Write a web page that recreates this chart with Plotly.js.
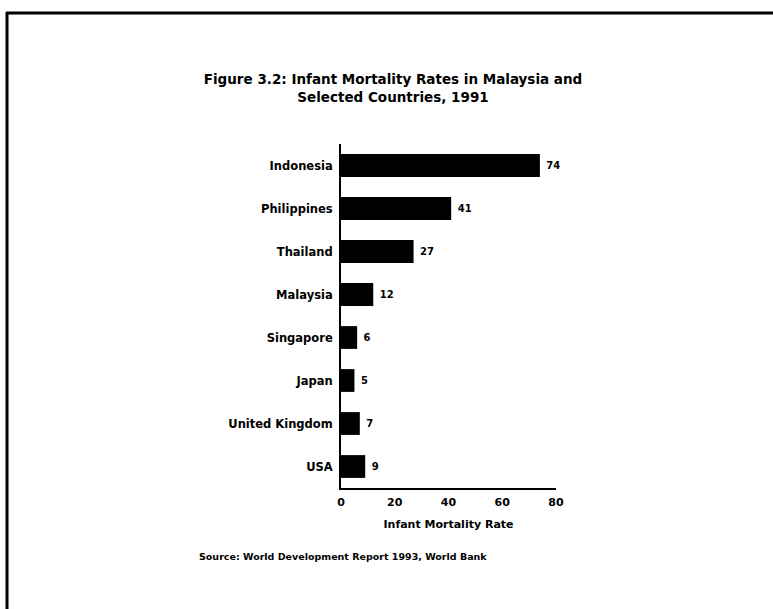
<!DOCTYPE html>
<html>
<head>
<meta charset="utf-8">
<script src="https://cdn.plot.ly/plotly-3.0.1.min.js"></script>
<style>html,body{margin:0;padding:0;background:#fff;}#chart{width:773px;height:609px;}</style>
</head>
<body>
<div id="chart"></div>
<script>
var countries = ["Indonesia", "Philippines", "Thailand", "Malaysia", "Singapore", "Japan", "United Kingdom", "USA"];
var rates = [74, 41, 27, 12, 6, 5, 7, 9];
var xTicks = [0, 20, 40, 60, 80];

var W = 773, H = 609;
var M = {l: 341, r: 217, t: 144, b: 121};
var pw = W - M.l - M.r, ph = H - M.t - M.b;
function px(x) { return (x - M.l) / pw; }
function py(y) { return (H - M.b - y) / ph; }

var font = {family: "DejaVu Sans, Liberation Sans, Arial, sans-serif", color: "#000", weight: "bold"};
function f(size) { return Object.assign({}, font, {size: size}); }

var trace = {
  type: "bar",
  orientation: "h",
  y: countries,
  x: rates,
  marker: {color: "#000", line: {width: 0}},
  width: 0.53,
  text: rates.map(function (v) { return " " + v; }),
  textposition: "outside",
  textfont: f(10),
  cliponaxis: false,
  hoverinfo: "none"
};

var layout = {
  width: W, height: H,
  margin: M,
  paper_bgcolor: "#fff", plot_bgcolor: "#fff",
  showlegend: false,
  font: font,
  title: {
    text: "Figure 3.2: Infant Mortality Rates in Malaysia and<br>Selected Countries, 1991",
    font: f(13.5),
    xref: "container", yref: "container",
    x: 393 / W, xanchor: "center",
    y: 1 - 84 / H, yanchor: "top"
  },
  xaxis: {
    range: [0, 80],
    tickvals: xTicks,
    ticktext: xTicks.map(String),
    tickfont: f(11),
    ticklabelstandoff: 3,
    showgrid: false, zeroline: false,
    showline: true, linecolor: "#000", linewidth: 2,
    ticks: "", ticklen: 0,
    title: {text: "Infant Mortality Rate", font: f(11), standoff: 12},
    fixedrange: true
  },
  yaxis: {
    autorange: "reversed",
    categoryorder: "array", categoryarray: countries,
    tickfont: f(11.5),
    ticklabelstandoff: 4,
    showgrid: false, zeroline: false,
    showline: true, linecolor: "#000", linewidth: 2,
    ticks: "", ticklen: 0,
    fixedrange: true
  },
  shapes: [
    {type: "line", xref: "paper", yref: "paper", x0: px(6), x1: px(773), y0: py(13), y1: py(13), line: {color: "#000", width: 3}},
    {type: "line", xref: "paper", yref: "paper", x0: px(7), x1: px(7), y0: py(12), y1: py(609), line: {color: "#000", width: 3}}
  ],
  annotations: [
    {text: "Source: World Development Report 1993, World Bank", xref: "paper", yref: "paper",
     x: px(197), y: py(556), xanchor: "left", yanchor: "middle", showarrow: false,
     font: f(9.5)}
  ]
};

Plotly.newPlot("chart", [trace], layout, {displayModeBar: false, staticPlot: true});
</script>
</body>
</html>
